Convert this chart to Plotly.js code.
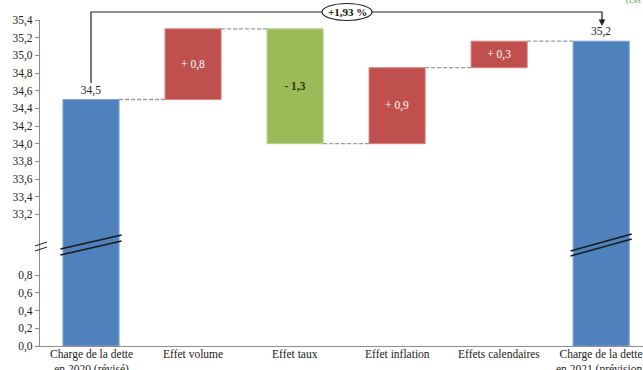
<!DOCTYPE html>
<html>
<head>
<meta charset="utf-8">
<script src="https://cdn.plot.ly/plotly-3.0.1.min.js"></script>
<style>html,body{margin:0;padding:0;background:#fff;}#chart{width:643px;height:370px;}</style>
</head>
<body>
<div id="chart"></div>
<script>
// ---- data ----
const categories = ["Charge de la dette<br>en 2020 (révisé)", "Effet volume", "Effet taux", "Effet inflation", "Effets calendaires", "Charge de la dette<br>en 2021 (prévision)"];
const startValue = 34.50;
const deltas = [0.80, -1.30, 0.86, 0.30];
const endValue = 35.16;
const changeLabel = "+1,93 %";
const lowerTicks = [0.0, 0.2, 0.4, 0.6, 0.8];
const upperTicks = [33.2, 33.4, 33.6, 33.8, 34.0, 34.2, 34.4, 34.6, 34.8, 35.0, 35.2, 35.4];
const axisBreakOffset = 31.71; // values above the break are shifted down by this amount

// ---- helpers ----
const T = v => v - axisBreakOffset;
const fmt = v => v.toFixed(1).replace('.', ',');
const colBlue = '#4F81BD', colRed = '#C0504D', colGreen = '#9BBB59';
const FONT = 'Liberation Serif, serif';

const xs = categories.map((c, i) => i);
const bases = [], heights = [], colors = [], lineCols = [], texts = [], tpos = [], tcol = [];
bases.push(0); heights.push(T(startValue)); colors.push(colBlue); lineCols.push('#7FA3D4'); texts.push(fmt(startValue)); tpos.push('outside'); tcol.push('#222');
let run = startValue;
const levels = [startValue];
deltas.forEach(d => {
  bases.push(T(run)); heights.push(d);
  colors.push(d >= 0 ? colRed : colGreen);
  lineCols.push(d >= 0 ? '#D98481' : '#B9D28A');
  texts.push(d >= 0 ? '+ ' + fmt(d) : '<b>- ' + fmt(Math.abs(d)) + '</b>');
  tpos.push('inside'); tcol.push(d >= 0 ? '#ffffff' : '#2b3a12');
  run += d; levels.push(run);
});
bases.push(0); heights.push(T(endValue)); colors.push(colBlue); lineCols.push('#7FA3D4'); texts.push(fmt(endValue)); tpos.push('outside'); tcol.push('#222');

const bw = 0.55;
const bars = {
  type: 'bar', x: xs, y: heights, base: bases, width: bw,
  marker: {color: colors, line: {color: lineCols, width: 1}},
  text: texts, textposition: tpos, insidetextanchor: 'middle',
  textfont: {family: FONT, size: 11.5, color: tcol},
  outsidetextfont: {family: FONT, size: 11.5, color: '#222'},
  cliponaxis: false, hoverinfo: 'skip', showlegend: false
};

// connectors
const cx = [], cy = [];
levels.forEach((lv, i) => {
  cx.push(i + bw / 2, i + 1 - bw / 2, null);
  cy.push(T(lv), T(lv), null);
});
const connectors = {
  type: 'scatter', mode: 'lines', x: cx, y: cy,
  line: {color: '#9a9a9a', width: 1.3, dash: '4px,2px'},
  hoverinfo: 'skip', showlegend: false
};

const tickvals = lowerTicks.concat(upperTicks.map(T));
const ticktext = lowerTicks.concat(upperTicks).map(fmt);

const yTop = T(upperTicks[upperTicks.length - 1]);
const plotH = 326;
const py = px => (346 - px) / plotH;

const shapes = [];
const brk = (xc, y1, y2, dy) => {
  [0, dy].forEach(o => shapes.push({type: 'line', xref: 'x', yref: 'paper', x0: xc - 0.3, x1: xc + 0.3,
    y0: py(y1 + o), y1: py(y2 + o), line: {color: '#1a1a1a', width: 1.4}, layer: 'above'}));
};
brk(0, 249, 235, 6);
brk(5, 251, 234, 5);
[[246, 242], [251, 247]].forEach(p => shapes.push({type: 'line', xref: 'paper', yref: 'paper',
  x0: -5 / 603, x1: 7 / 603, y0: py(p[0]), y1: py(p[1]), line: {color: '#333', width: 1.2}, layer: 'above'}));
shapes.push({type: 'path', xref: 'paper', yref: 'paper',
  path: `M ${(91 - 40) / 603} ${py(83)} L ${(91 - 40) / 603} ${py(12)} L ${(602 - 40) / 603} ${py(12)} L ${(602 - 40) / 603} ${py(20)}`,
  line: {color: '#222', width: 1.2}});
shapes.push({type: 'circle', xref: 'paper', yref: 'paper',
  x0: (322 - 40) / 603, x1: (372 - 40) / 603, y0: py(20.5), y1: py(3.5),
  fillcolor: '#fff', line: {color: '#222', width: 1.2}});

const annotations = [
  {xref: 'paper', yref: 'paper', x: (347 - 40) / 603, y: py(12), xanchor: 'center', yanchor: 'middle',
   text: '<b>' + changeLabel + '</b>', showarrow: false,
   font: {family: FONT, size: 11, color: '#111'}},
  {xref: 'paper', yref: 'paper', x: (602 - 40) / 603, y: py(26), ax: 0, ay: -8, axref: 'pixel', ayref: 'pixel',
   text: '', showarrow: true, arrowhead: 2, arrowsize: 1.1, arrowwidth: 1.2, arrowcolor: '#222'},
  {xref: 'paper', yref: 'paper', x: (624 - 40) / 603, y: py(1), xanchor: 'left', yanchor: 'middle',
   text: '(1,93 %', showarrow: false, font: {family: FONT, size: 7, color: '#3a8a2a'}}
];
categories.forEach((c, i) => annotations.push({
  xref: 'x', yref: 'paper', x: i, y: 0, yshift: 0, xanchor: 'center', yanchor: 'top',
  text: c, showarrow: false, align: 'center',
  font: {family: FONT, size: 11.5, color: '#222'}
}));

const layout = {
  width: 643, height: 370,
  margin: {l: 40, r: 0, t: 20, b: 24},
  paper_bgcolor: '#fff', plot_bgcolor: '#fff',
  font: {family: FONT, size: 11.5, color: '#222'},
  bargap: 0,
  xaxis: {range: [-0.5, 5.41], showticklabels: false, showgrid: false, zeroline: false,
    showline: true, linecolor: '#8c8c8c', linewidth: 1.2, ticks: '', fixedrange: true},
  yaxis: {range: [0, yTop], tickvals: tickvals, ticktext: ticktext, showgrid: false, zeroline: false,
    showline: true, linecolor: '#8c8c8c', linewidth: 1.2, ticks: 'outside', ticklen: 4, tickcolor: '#8c8c8c',
    tickfont: {family: FONT, size: 11.5, color: '#222'}},
  shapes: shapes, annotations: annotations
};

Plotly.newPlot('chart', [bars, connectors], layout, {staticPlot: true, displayModeBar: false});
</script>
</body>
</html>
